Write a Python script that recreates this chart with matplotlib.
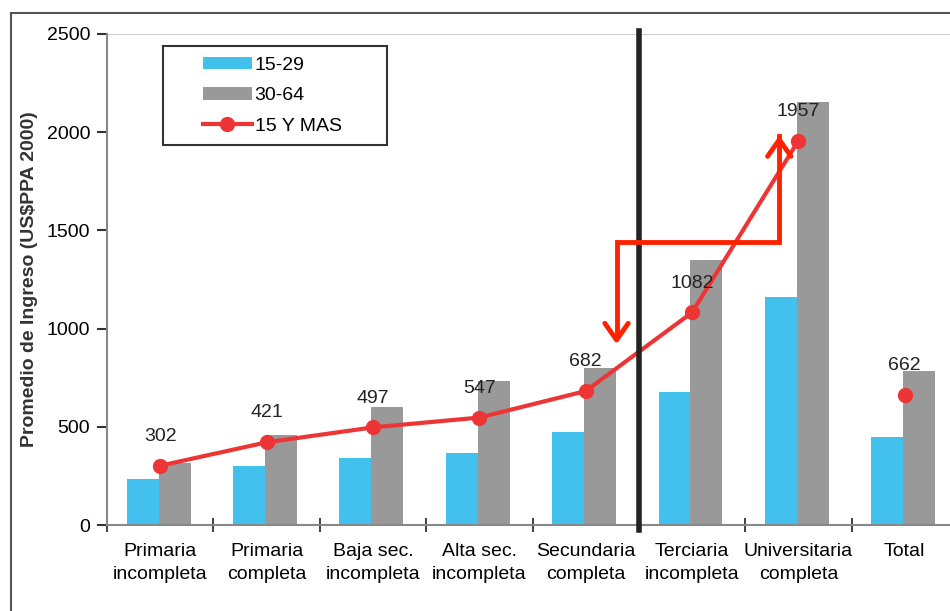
import matplotlib
matplotlib.use("Agg")
import matplotlib.pyplot as plt
from matplotlib.lines import Line2D
from matplotlib.patches import Rectangle

plt.rcParams['font.family'] = ['Liberation Sans', 'DejaVu Sans']

# data
categorias = ["Primaria\nincompleta", "Primaria\ncompleta", "Baja sec.\nincompleta",
              "Alta sec.\nincompleta", "Secundaria\ncompleta", "Terciaria\nincompleta",
              "Universitaria\ncompleta", "Total"]
edad_15_29 = [234, 300, 341, 367, 473, 677, 1161, 448]
edad_30_64 = [316, 458, 601, 733, 800, 1349, 2154, 784]
total_15_mas = [302, 421, 497, 547, 682, 1082, 1957, 662]

azul = "#42c1ee"
gris = "#999999"
rojo = "#ee3535"
rojo_flecha = "#ff2200"

fig = plt.figure(figsize=(9.5, 6.11), dpi=100)
ax = fig.add_axes([107 / 950, 1 - 525 / 611, 851 / 950, 491 / 611])

x = list(range(len(categorias)))
w = 0.3
b1 = ax.bar([i - 0.165 for i in x], edad_15_29, width=w, color=azul, label="15-29", zorder=2)
b2 = ax.bar([i + 0.135 for i in x], edad_30_64, width=w, color=gris, label="30-64", zorder=2)

n = len(categorias) - 1
l1, = ax.plot(x[:n], total_15_mas[:n], color=rojo, lw=3, marker="o", ms=10,
              label="15 Y MAS", zorder=3)
ax.plot(x[n:], total_15_mas[n:], color=rojo, lw=0, marker="o", ms=10, zorder=3)

for i, v in zip(x, total_15_mas):
    ax.annotate(str(v), (i, v), xytext=(0, 15), textcoords="offset points",
                ha="center", va="bottom", fontsize=14, color="#222222")

ax.set_xlim(-0.5, len(categorias) - 0.5)
ax.set_ylim(0, 2500)
ax.set_yticks(range(0, 2501, 500))
ax.tick_params(axis="y", direction="out", length=7, width=1.5, color="#333333",
               labelsize=14, pad=5)
ax.set_xticks([i + 0.5 for i in range(-1, len(categorias))], minor=False)
ax.set_xticklabels([])
ax.tick_params(axis="x", direction="inout", length=10, width=1.3, color="#333333")
ax.set_xticks(x, minor=True)
ax.set_xticklabels(categorias, minor=True, fontsize=14, linespacing=1.45)
ax.tick_params(axis="x", which="minor", length=0, pad=13)

for s in ["top", "right"]:
    ax.spines[s].set_visible(False)
ax.spines["left"].set_color("#888888")
ax.spines["left"].set_linewidth(1.5)
ax.spines["bottom"].set_color("#888888")
ax.spines["bottom"].set_linewidth(1.5)
ax.axhline(2500, color="#cccccc", lw=1.5, zorder=1)

ax.set_ylabel("Promedio de Ingreso (US$PPA 2000)", fontsize=14, fontweight="bold",
              color="#333333", labelpad=6)

# separator between secondary and tertiary
ax.plot([4.5, 4.5], [-28, 2515], color="#222222", lw=4, clip_on=False, zorder=4)

# red elbow arrow
ax.plot([4.29, 4.29, 5.82, 5.82], [960, 1441, 1441, 1980], color=rojo_flecha, lw=3.5,
        solid_joinstyle="miter", zorder=5)
for (xt, yt, dy) in [(4.29, 942, 1), (5.82, 1962, -1)]:
    ax.plot([xt - 0.11, xt, xt + 0.11], [yt + dy * 85, yt, yt + dy * 85],
            color=rojo_flecha, lw=3.5, solid_capstyle="round", zorder=5)

# legend
leg = ax.legend([b1, b2, l1], ["15-29", "30-64", "15 Y MAS"],
                loc="upper left", bbox_to_anchor=(203 / 950, 1 - 57 / 611),
                bbox_transform=fig.transFigure, frameon=False, fontsize=14,
                handlelength=2.5, handleheight=0.6, handletextpad=0.15,
                labelspacing=0.68, borderpad=0, borderaxespad=0)
fig.add_artist(Rectangle((163 / 950, 1 - 145 / 611), 224 / 950, 99 / 611,
                         transform=fig.transFigure, fill=False, ec="#333333", lw=1.5))

# outer frame (left and top visible)
fig.add_artist(Line2D([11 / 950, 11 / 950], [0, 1 - 13 / 611], color="#555555", lw=1.5))
fig.add_artist(Line2D([11 / 950, 1], [1 - 13 / 611, 1 - 13 / 611], color="#555555", lw=1.5))

fig.savefig("out.png", dpi=100)
